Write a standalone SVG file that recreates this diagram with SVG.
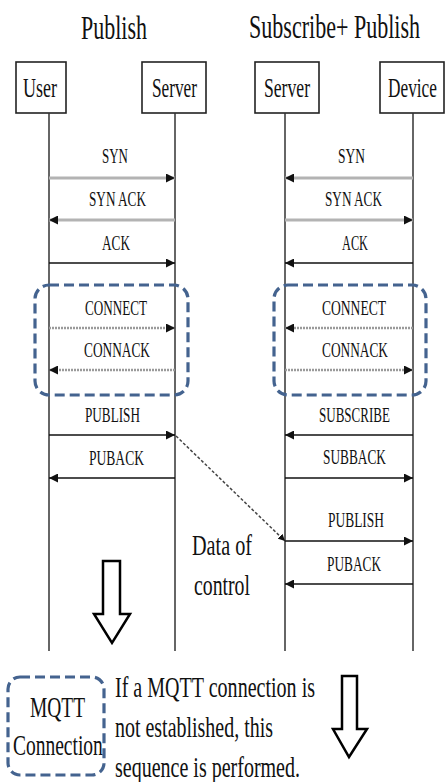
<svg xmlns="http://www.w3.org/2000/svg" width="445" height="782" viewBox="0 0 445 782">
<style>
text{font-family:"Liberation Serif","DejaVu Serif",serif;fill:#111;}
.title{font-size:34px;}
.lbl{font-size:27px;}
.msg{font-size:21px;}
.big{font-size:30px;}
.box{fill:#fff;stroke:#222;stroke-width:1.6;}
.life{stroke:#333;stroke-width:1.5;fill:none;}
.gray{stroke:#b3b3b3;stroke-width:3;fill:none;}
.dot{stroke:#9a9a9a;stroke-width:2.5;stroke-dasharray:2 1;fill:none;}
.blk{stroke:#111;stroke-width:1.6;fill:none;}
.grp{fill:none;stroke:#44638f;stroke-width:3.2;stroke-dasharray:10 5;}
.hollow{fill:#fff;stroke:#000;stroke-width:2.5;stroke-linejoin:miter;}
</style>
<defs>
<marker id="ah" viewBox="0 0 10 10" refX="10" refY="5" markerWidth="9" markerHeight="9" markerUnits="userSpaceOnUse" orient="auto">
<path d="M0,0 L10,5 L0,10 z" fill="#111"/>
</marker>
<marker id="ahs" viewBox="0 0 10 10" refX="10" refY="5" markerWidth="7" markerHeight="7" markerUnits="userSpaceOnUse" orient="auto">
<path d="M0,0 L10,5 L0,10 z" fill="#111"/>
</marker>
</defs>

<text class="title" x="81" y="39" textLength="66" lengthAdjust="spacingAndGlyphs">Publish</text>
<text class="title" transform="translate(249,38) scale(0.648,1)" x="0" y="0" textLength="264" lengthAdjust="spacingAndGlyphs">Subscribe+ Publish</text>

<g id="user">
<rect class="box" x="16" y="62" width="50" height="51"/>
<line class="life" x1="49" y1="113" x2="49" y2="651"/>
<text class="lbl" x="23" y="97" textLength="34" lengthAdjust="spacingAndGlyphs">User</text>
</g>
<g id="server1">
<rect class="box" x="142" y="62" width="64" height="51"/>
<line class="life" x1="175" y1="113" x2="175" y2="651"/>
<text class="lbl" x="152" y="97" textLength="45" lengthAdjust="spacingAndGlyphs">Server</text>
</g>
<g id="server2">
<rect class="box" x="255" y="62" width="64" height="51"/>
<line class="life" x1="285" y1="113" x2="285" y2="651"/>
<text class="lbl" x="264" y="97" textLength="46" lengthAdjust="spacingAndGlyphs">Server</text>
</g>
<g id="device">
<rect class="box" x="380" y="62" width="64" height="51"/>
<line class="life" x1="413" y1="113" x2="413" y2="651"/>
<text class="lbl" transform="translate(388,97) scale(0.64,1)" x="0" y="0" textLength="76.5" lengthAdjust="spacingAndGlyphs">Device</text>
</g>

<g id="groups">
<rect class="grp" x="35" y="285" width="153" height="110" rx="14"/>
<rect class="grp" x="274" y="285" width="152" height="110" rx="14"/>
</g>

<g id="connectors">
<line class="gray" x1="49" y1="178" x2="175" y2="178" marker-end="url(#ah)"/>
<line class="gray" x1="175" y1="220" x2="49" y2="220" marker-end="url(#ah)"/>
<line class="blk" x1="49" y1="263" x2="175" y2="263" marker-end="url(#ah)"/>
<line class="dot" x1="49" y1="328" x2="175" y2="328" marker-end="url(#ah)"/>
<line class="dot" x1="175" y1="370" x2="49" y2="370" marker-end="url(#ah)"/>
<line class="blk" x1="49" y1="435" x2="175" y2="435" marker-end="url(#ah)"/>
<line class="blk" x1="175" y1="478" x2="49" y2="478" marker-end="url(#ah)"/>

<line class="gray" x1="413" y1="178" x2="285" y2="178" marker-end="url(#ah)"/>
<line class="gray" x1="285" y1="220" x2="413" y2="220" marker-end="url(#ah)"/>
<line class="blk" x1="413" y1="263" x2="285" y2="263" marker-end="url(#ah)"/>
<line class="dot" x1="413" y1="328" x2="285" y2="328" marker-end="url(#ah)"/>
<line class="dot" x1="285" y1="370" x2="413" y2="370" marker-end="url(#ah)"/>
<line class="blk" x1="413" y1="435" x2="285" y2="435" marker-end="url(#ah)"/>
<line class="blk" x1="285" y1="478" x2="413" y2="478" marker-end="url(#ah)"/>
<line class="blk" x1="285" y1="541" x2="413" y2="541" marker-end="url(#ah)"/>
<line class="blk" x1="413" y1="584" x2="285" y2="584" marker-end="url(#ah)"/>

<line x1="176" y1="436" x2="285" y2="541" stroke="#444" stroke-width="1.5" stroke-dasharray="3 2" marker-end="url(#ahs)"/>
</g>

<g id="labels">
<text class="msg" x="102" y="163" textLength="26" lengthAdjust="spacingAndGlyphs">SYN</text>
<text class="msg" x="89" y="206" textLength="57" lengthAdjust="spacingAndGlyphs">SYN ACK</text>
<text class="msg" x="102" y="250" textLength="28" lengthAdjust="spacingAndGlyphs">ACK</text>
<text class="msg" x="85" y="315" textLength="62" lengthAdjust="spacingAndGlyphs">CONNECT</text>
<text class="msg" x="84" y="357" textLength="66" lengthAdjust="spacingAndGlyphs">CONNACK</text>
<text class="msg" x="85" y="422" textLength="55" lengthAdjust="spacingAndGlyphs">PUBLISH</text>
<text class="msg" x="89" y="465" textLength="55" lengthAdjust="spacingAndGlyphs">PUBACK</text>

<text class="msg" x="338" y="163" textLength="27" lengthAdjust="spacingAndGlyphs">SYN</text>
<text class="msg" x="325" y="206" textLength="57" lengthAdjust="spacingAndGlyphs">SYN ACK</text>
<text class="msg" x="342" y="250" textLength="26" lengthAdjust="spacingAndGlyphs">ACK</text>
<text class="msg" x="322" y="315" textLength="64" lengthAdjust="spacingAndGlyphs">CONNECT</text>
<text class="msg" x="322" y="357" textLength="66" lengthAdjust="spacingAndGlyphs">CONNACK</text>
<text class="msg" x="319" y="422" textLength="71" lengthAdjust="spacingAndGlyphs">SUBSCRIBE</text>
<text class="msg" x="323" y="464" textLength="63" lengthAdjust="spacingAndGlyphs">SUBBACK</text>
<text class="msg" x="328" y="527" textLength="56" lengthAdjust="spacingAndGlyphs">PUBLISH</text>
<text class="msg" x="327" y="571" textLength="54" lengthAdjust="spacingAndGlyphs">PUBACK</text>

<text class="big" x="192" y="555" textLength="60" lengthAdjust="spacingAndGlyphs">Data of</text>
<text class="big" x="194" y="595" textLength="56" lengthAdjust="spacingAndGlyphs">control</text>
</g>

<g id="arrow1">
<path class="hollow" d="M103,561 L120,561 L120,614 L130,614 L112,643 L94,614 L103,614 Z"/>
</g>

<g id="legend">
<rect class="grp" x="8" y="677" width="96" height="98" rx="12"/>
<text class="big" x="30" y="717" textLength="55" lengthAdjust="spacingAndGlyphs">MQTT</text>
<text class="big" transform="translate(13,755) scale(0.651,1)" x="0" y="0" textLength="138" lengthAdjust="spacingAndGlyphs">Connection</text>
<text class="big" x="115" y="697" textLength="200" lengthAdjust="spacingAndGlyphs">If a MQTT connection is</text>
<text class="big" x="115" y="737" textLength="158" lengthAdjust="spacingAndGlyphs">not established, this</text>
<text class="big" x="115" y="777" textLength="185" lengthAdjust="spacingAndGlyphs">sequence is performed.</text>
</g>

<g id="arrow2">
<path class="hollow" d="M342,676 L357,676 L357,729 L367,729 L349,757 L333,729 L342,729 Z"/>
</g>
</svg>
